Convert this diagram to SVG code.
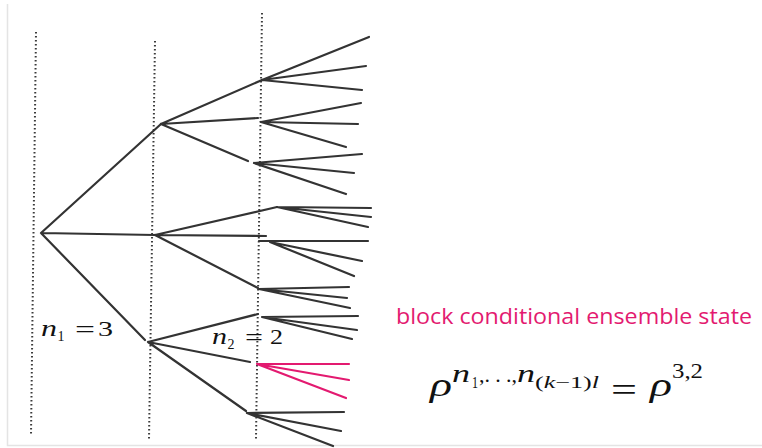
<svg xmlns="http://www.w3.org/2000/svg" width="762" height="448" viewBox="0 0 762 448">
<style>
.edge{stroke:#333;stroke-width:2.2;stroke-linecap:round;fill:none}
.pink{stroke:#e31a70}
.guide{stroke:#3a3a3a;stroke-width:2;stroke-dasharray:1.6 2.4;fill:none}
.frame{stroke:#e4e4e4;stroke-width:1.5;fill:none}
.m{font-family:"Liberation Serif","DejaVu Serif",serif;fill:#111}
.i{font-style:italic}
.cap{font-family:"Open Sans","Noto Sans",sans-serif;font-size:21px;fill:#e31a70}
</style>
<rect width="762" height="448" fill="#fff"/>
<g id="frame">
<path class="frame" d="M7.5 4V445.5H762"/>
</g>
<g id="guides">
<line class="guide" x1="36" y1="32" x2="31" y2="436"/>
<line class="guide" x1="155" y1="41" x2="149" y2="439"/>
<line class="guide" x1="262" y1="13" x2="256" y2="439"/>
</g>
<g id="connectors">
<g id="root">
<path class="edge" d="M41 233L161 124M41 233L155 235M41 233L145 340"/>
</g>
<g id="node-A">
<path class="edge" d="M161 124L262 80M161 124L258 118M161 124L248 161"/>
<path class="edge" d="M262 80L369 37M262 80L366 66M262 80L362 90"/>
<path class="edge" d="M261 122L361 103M261 122L358 124M261 122L346 147"/>
<path class="edge" d="M254 163L362 154M254 163L354 173M254 163L346 194"/>
</g>
<g id="node-B">
<path class="edge" d="M155 235L277 207M155 235L266 236M155 235L258 288"/>
<path class="edge" d="M277 207L371 208M277 207L371 217M277 207L368 227"/>
<path class="edge" d="M259 241L368 241M270 242L362 261M270 242L354 276"/>
<path class="edge" d="M259 289L349 287M259 289L347 298M259 289L350 308"/>
</g>
<g id="node-C">
<path class="edge" d="M148 342L258 314M148 342L250 362M148 342L246 411"/>
<path class="edge" d="M262 317L358 316M262 317L357 330M262 317L352 339"/>
<path class="edge pink" d="M257 364L349 364M257 364L349 380M257 364L346 398"/>
<path class="edge" d="M247 413L344 412M247 413L341 431M247 413L333 446"/>
</g>
</g>
<g id="label-n1">
<text x="41" y="336" font-size="24" class="m i" textLength="16" lengthAdjust="spacingAndGlyphs">n</text>
<text x="57.5" y="341" font-size="15" class="m" textLength="7" lengthAdjust="spacingAndGlyphs">1</text>
<text x="75" y="337" font-size="24" class="m" textLength="20" lengthAdjust="spacingAndGlyphs">=</text>
<text x="98" y="336" font-size="21" class="m" textLength="15" lengthAdjust="spacingAndGlyphs">3</text>
</g>
<g id="label-n2">
<text x="212" y="344" font-size="24" class="m i" textLength="15" lengthAdjust="spacingAndGlyphs">n</text>
<text x="227.5" y="349" font-size="15" class="m" textLength="7" lengthAdjust="spacingAndGlyphs">2</text>
<text x="245" y="345" font-size="24" class="m" textLength="18" lengthAdjust="spacingAndGlyphs">=</text>
<text x="270" y="344" font-size="21" class="m" textLength="13" lengthAdjust="spacingAndGlyphs">2</text>
</g>
<g id="caption">
<text x="396" y="324" class="cap" textLength="356" lengthAdjust="spacingAndGlyphs">block conditional ensemble state</text>
</g>
<g id="formula">
<text x="430" y="396" font-size="34" class="m i" textLength="22" lengthAdjust="spacingAndGlyphs">ρ</text>
<text x="452" y="382" font-size="25" class="m i" textLength="18" lengthAdjust="spacingAndGlyphs">n</text>
<text x="472" y="388" font-size="16" class="m" textLength="6" lengthAdjust="spacingAndGlyphs">1</text>
<text x="479" y="382" font-size="22" class="m" textLength="38" lengthAdjust="spacing">,. . .,</text>
<text x="517" y="382" font-size="25" class="m i" textLength="18" lengthAdjust="spacingAndGlyphs">n</text>
<text x="535" y="388" font-size="17" class="m" textLength="64" lengthAdjust="spacingAndGlyphs">(<tspan class="i">k</tspan>−1)<tspan class="i">l</tspan></text>
<text x="611" y="401" font-size="34" class="m" textLength="26" lengthAdjust="spacingAndGlyphs">=</text>
<text x="650" y="396" font-size="34" class="m i" textLength="22" lengthAdjust="spacingAndGlyphs">ρ</text>
<text x="672" y="378" font-size="21" class="m" textLength="31" lengthAdjust="spacingAndGlyphs">3,2</text>
</g>
</svg>
